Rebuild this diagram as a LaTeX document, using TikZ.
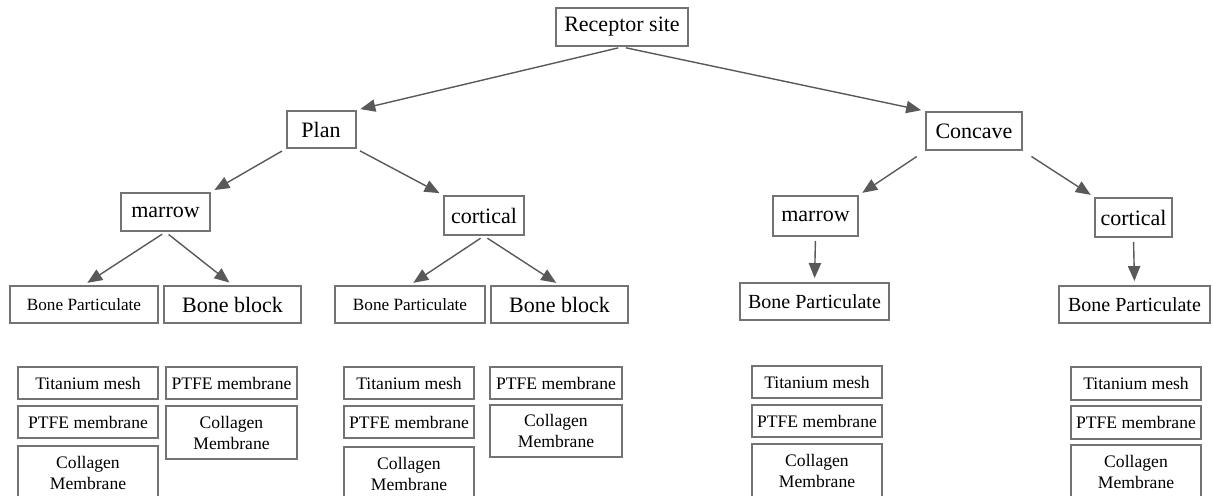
\documentclass[tikz,border=0pt]{standalone}
\usepackage{fontspec}
\setmainfont{Liberation Serif}
\usetikzlibrary{arrows}

\begin{document}
\begin{tikzpicture}[x=0.5pt,y=-0.5pt,>=triangle 45]
	\tikzstyle{every node} = [draw=black!55,line width=1pt,inner sep=0pt,align=center];
	\tikzstyle{big} = [font=\fontsize{11}{13}\selectfont];
	\tikzstyle{mid} = [font=\fontsize{8.6}{10}\selectfont];
	\tikzstyle{small} = [font=\fontsize{8.8}{10.5}\selectfont];
	\tikzstyle{link} = [->,draw=black!65,line width=0.7pt,shorten <=2pt,shorten >=2pt];
	\useasboundingbox (0,0) rectangle (1213,496);
	% top levels
	\node[big,minimum width=66pt,minimum height=19pt] (rec) at (622,27) {Receptor site};
	\node[big,minimum width=34.5pt,minimum height=18.5pt] (plan) at (321,129.5) {Plan};
	\node[big,minimum width=48pt,minimum height=19pt] (conc) at (974,131) {Concave};
	\node[big,minimum width=44.5pt,minimum height=19pt] (mar1) at (165.5,212) {marrow};
	\node[big,minimum width=40pt,minimum height=19.5pt] (cor1) at (484,215.5) {cortical};
	\node[big,minimum width=42.5pt,minimum height=20pt] (mar2) at (815.5,216) {marrow};
	\node[big,minimum width=38.5pt,minimum height=19.5pt] (cor2) at (1133.5,217.5) {cortical};
	% grafts
	\node[mid,minimum width=74pt,minimum height=18.5pt] (bp1) at (84,304.5) {Bone Particulate};
	\node[big,minimum width=68.5pt,minimum height=18.5pt] (bb1) at (232.5,304.5) {Bone block};
	\node[mid,minimum width=75pt,minimum height=18.5pt] (bp2) at (410,304.5) {Bone Particulate};
	\node[big,minimum width=68.5pt,minimum height=18.5pt] (bb2) at (559.5,304.5) {Bone block};
	\node[big,font=\fontsize{10}{12}\selectfont,minimum width=74.5pt,minimum height=18.5pt] (bp3) at (814.5,301.5) {Bone Particulate};
	\node[big,font=\fontsize{10}{12}\selectfont,minimum width=75.5pt,minimum height=18.5pt] (bp4) at (1134.5,304.5) {Bone Particulate};
	% barriers
	\node[small,minimum width=70pt,minimum height=16pt] (ti1) at (88,383) {Titanium mesh};
	\node[small,minimum width=70pt,minimum height=16pt] (pt1) at (88,422) {PTFE membrane};
	\node[small,minimum width=70pt,minimum height=27pt] (co1) at (88,473) {Collagen\\Membrane};
	\node[small,minimum width=65.5pt,minimum height=16pt] (pt2) at (231.5,383) {PTFE membrane};
	\node[small,minimum width=65.5pt,minimum height=26.5pt] (co2) at (231.5,432.5) {Collagen\\Membrane};
	\node[small,minimum width=65pt,minimum height=16pt] (ti3) at (409,383) {Titanium mesh};
	\node[small,minimum width=65pt,minimum height=16pt] (pt3) at (409,422) {PTFE membrane};
	\node[small,minimum width=65pt,minimum height=27pt] (co3) at (409,474) {Collagen\\Membrane};
	\node[small,minimum width=66pt,minimum height=16pt] (pt4) at (556,383) {PTFE membrane};
	\node[small,minimum width=66pt,minimum height=26pt] (co4) at (556,431) {Collagen\\Membrane};
	\node[small,minimum width=65pt,minimum height=16pt] (ti5) at (817,382) {Titanium mesh};
	\node[small,minimum width=65pt,minimum height=16pt] (pt5) at (817,421) {PTFE membrane};
	\node[small,minimum width=65pt,minimum height=27pt] (co5) at (817,471) {Collagen\\Membrane};
	\node[small,minimum width=65pt,minimum height=16.5pt] (ti6) at (1136,383.5) {Titanium mesh};
	\node[small,minimum width=65pt,minimum height=16.5pt] (pt6) at (1136,422.5) {PTFE membrane};
	\node[small,minimum width=65pt,minimum height=27pt] (co6) at (1136,472) {Collagen\\Membrane};
	% connectors
	\draw[link] (rec.south) -- (plan.north east);
	\draw[link] (rec.south) -- (conc.north west);
	\draw[link] (plan.south west) -- (mar1.north east);
	\draw[link] (plan.south east) -- (cor1.north west);
	\draw[link,shorten <=5pt] (conc.south west) -- (mar2.north east);
	\draw[link,shorten <=5pt] (conc.south east) -- (cor2.north west);
	\draw[link] (mar1.south) -- (bp1.north);
	\draw[link] (mar1.south) -- (bb1.north);
	\draw[link] (cor1.south) -- (bp2.north);
	\draw[link] (cor1.south) -- (bb2.north);
	\draw[link] (mar2.south) -- (bp3.north);
	\draw[link] (cor2.south) -- (bp4.north);
\end{tikzpicture}
\end{document}
